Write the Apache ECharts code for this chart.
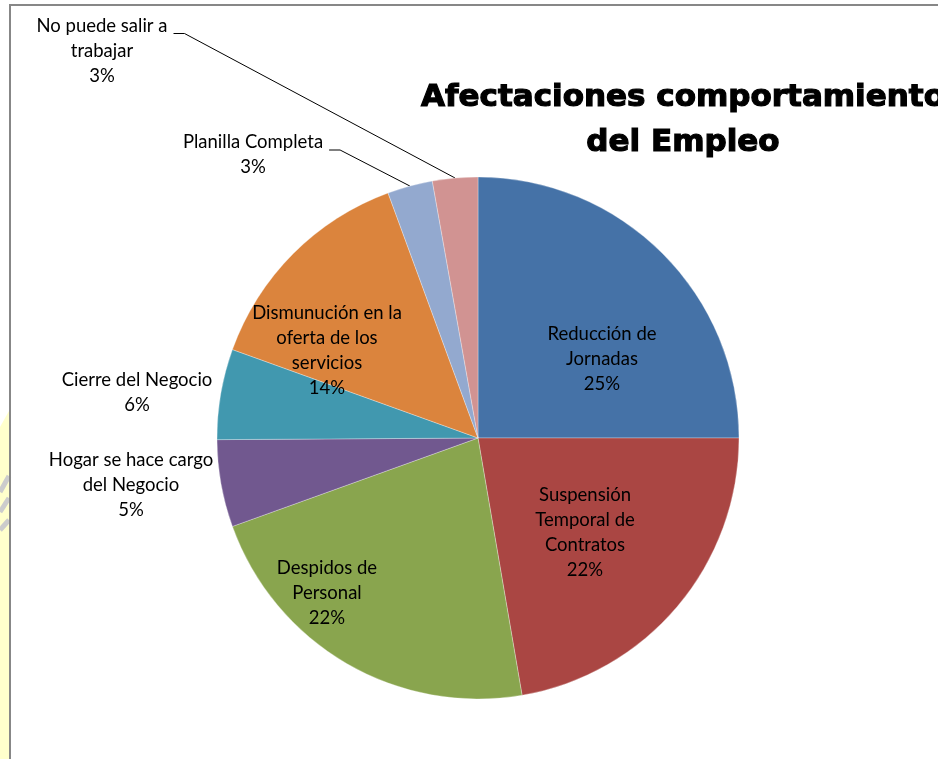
<!DOCTYPE html>
<html><head><meta charset="utf-8">
<script src="https://cdn.jsdelivr.net/npm/echarts@6/dist/echarts.min.js"></script>
<style>html,body{margin:0;padding:0;background:#fff}#c{width:938px;height:759px}</style>
</head><body><div id="c"></div>
<script>
// ---- data ----
const categories = ["Reducción de Jornadas", "Suspensión Temporal de Contratos", "Despidos de Personal",
  "Hogar se hace cargo del Negocio", "Cierre del Negocio", "Dismunución en la oferta de los servicios",
  "Planilla Completa", "No puede salir a trabajar"];
const labelText = ["Reducción de\nJornadas", "Suspensión\nTemporal de\nContratos", "Despidos de\nPersonal",
  "Hogar se hace cargo\ndel Negocio", "Cierre del Negocio", "Dismunución en la\noferta de los\nservicios",
  "Planilla Completa", "No puede salir a\ntrabajar"];
const shares = [25.0, 22.3, 22.2, 5.4, 5.6, 13.9, 2.8, 2.8];
const titleLines = ["Afectaciones comportamiento", "del Empleo"];

// ---- styling / layout ----
const colors = ["#4572A7", "#AA4643", "#89A54E", "#71588F", "#4198AF", "#DB843D", "#93A9CF", "#D19392"];
const labelCenters = [[602, 359.5], [585, 532.5], [327, 593], [131, 485.5], [137, 392.5], [327, 350.5], [253, 155], [102, 51]];
const labelMode = ["inside", "inside", "inside", "free", "free", "inside", "leader", "leader"];

const chart = echarts.init(document.getElementById('c'));
chart.setOption({
  backgroundColor: '#ffffff',
  animation: false,
  title: {
    text: titleLines.join('\n'),
    left: 678, top: 70, textAlign: 'center',
    textStyle: { fontFamily: 'DejaVu Sans', fontWeight: 'bold', fontSize: 31, lineHeight: 45, color: '#000',
      textBorderColor: '#000', textBorderWidth: 1.2 }
  },
  graphic: [
    { type: 'polygon', z: -10, shape: { points: [[0, 427], [9, 411], [9, 759], [0, 759]] }, style: { fill: '#FFFFCC' } },
    { type: 'line', z: -9, shape: { x1: 0, y1: 492, x2: 9, y2: 476 }, style: { stroke: '#cccccc', lineWidth: 5 } },
    { type: 'line', z: -9, shape: { x1: 0, y1: 512, x2: 9, y2: 498 }, style: { stroke: '#cccccc', lineWidth: 5 } },
    { type: 'line', z: -9, shape: { x1: 0, y1: 530, x2: 9, y2: 520 }, style: { stroke: '#cccccc', lineWidth: 5 } },
    { type: 'rect', z: 100, shape: { x: 10, y: 5, width: 980, height: 800 }, style: { fill: null, stroke: '#878787', lineWidth: 2 } }
  ],
  series: [{
    type: 'pie',
    center: [478, 438],
    radius: 261,
    startAngle: 90,
    clockwise: true,
    avoidLabelOverlap: false,
    itemStyle: { borderColor: 'rgba(255,255,255,0.5)', borderWidth: 0.6 },
    label: {
      show: true,
      color: '#000',
      fontFamily: 'Lato',
      fontSize: 18.5,
      lineHeight: 25,
      align: 'center',
      formatter: p => labelText[p.dataIndex] + '\n' + Math.round(p.value) + '%'
    },
    labelLine: { show: true, lineStyle: { color: '#000', width: 1 } },
    labelLayout: function (p) {
      const c = labelCenters[p.dataIndex];
      const out = { x: c[0], y: c[1], align: 'center', verticalAlign: 'middle' };
      if (labelMode[p.dataIndex] === 'leader' && p.labelLinePoints) {
        const right = c[0] + p.labelRect.width / 2;
        const ly = c[1] - p.labelRect.height / 2 + 20;
        out.labelLinePoints = [p.labelLinePoints[0], [right + 17, ly], [right + 6, ly]];
      }
      return out;
    },
    data: categories.map((name, i) => ({
      name: name,
      value: shares[i],
      itemStyle: { color: colors[i] },
      label: { position: labelMode[i] === 'inside' ? 'inside' : 'outside' },
      labelLine: { show: labelMode[i] === 'leader' }
    }))
  }]
});
</script></body></html>
